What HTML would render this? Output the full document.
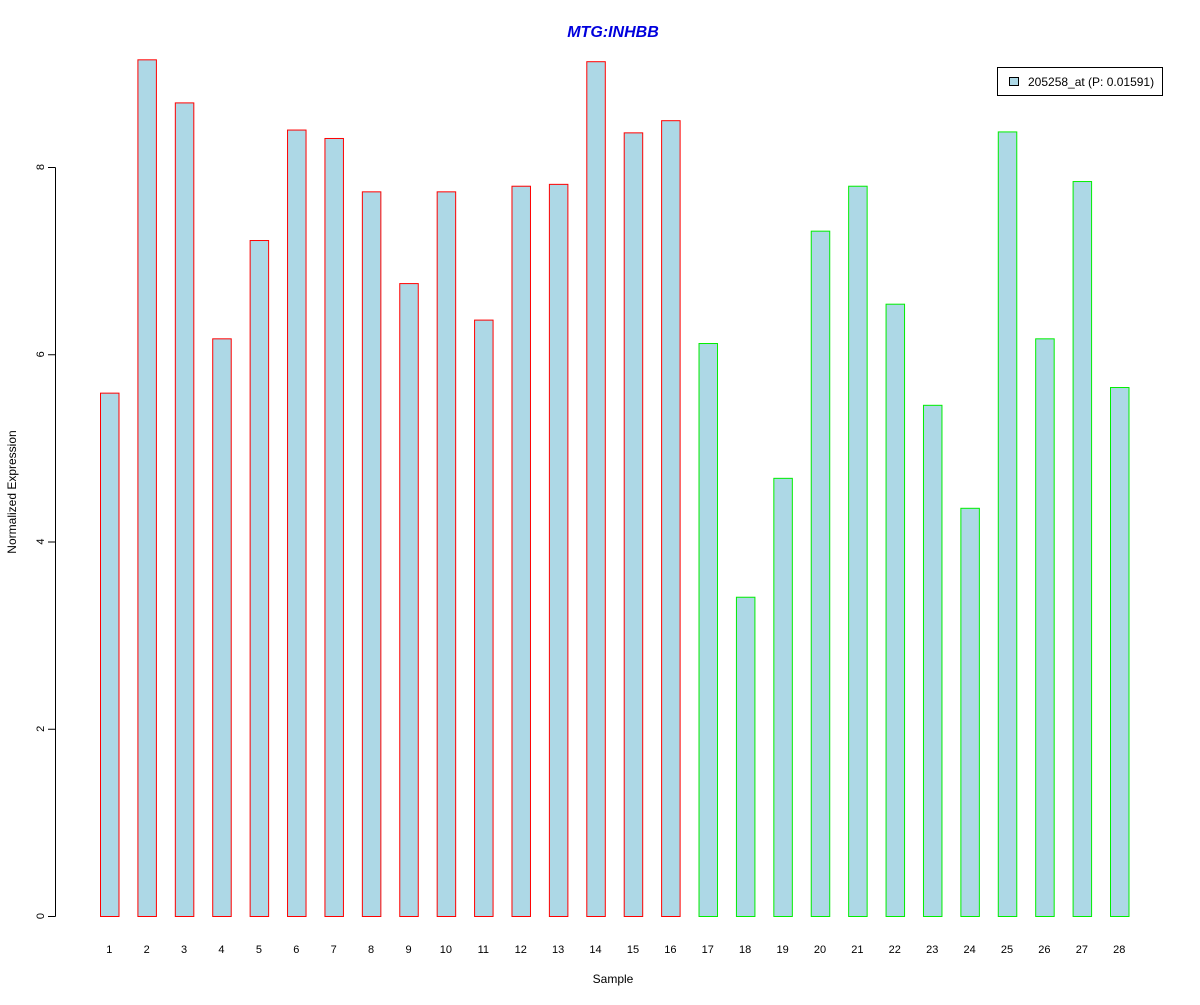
<!DOCTYPE html>
<html><head><meta charset="utf-8"><style>
body{margin:0;background:#fff}
svg text{font-family:"Liberation Sans",Arial,sans-serif}
</style></head><body>
<svg id="chart" width="1200" height="1000" xmlns="http://www.w3.org/2000/svg">
<rect width="1200" height="1000" fill="#fff"/>
<text x="613" y="37" text-anchor="middle" font-size="16" font-weight="bold" font-style="italic" fill="#0000dd">MTG:INHBB</text>
<text x="613" y="983" text-anchor="middle" font-size="12">Sample</text>
<text transform="translate(16,492) rotate(-90)" text-anchor="middle" font-size="12">Normalized Expression</text>
<g id="yaxis"></g>
<g id="bars"></g>
<g id="xlabels"></g>
<g>
<rect x="997.5" y="67.5" width="165" height="28" fill="#fff" stroke="#000"/>
<rect x="1009.5" y="77.5" width="9" height="8" fill="#add8e6" stroke="#000"/>
<text x="1028" y="86" font-size="12">205258_at (P: 0.01591)</text>
</g>
</svg>
<script>
const categories = ["1","2","3","4","5","6","7","8","9","10","11","12","13","14","15","16","17","18","19","20","21","22","23","24","25","26","27","28"];
const values = [5.59,9.15,8.69,6.17,7.22,8.40,8.31,7.74,6.76,7.74,6.37,7.80,7.82,9.13,8.37,8.50,6.12,3.41,4.68,7.32,7.80,6.54,5.46,4.36,8.38,6.17,7.85,5.65];
const groups = ["a","a","a","a","a","a","a","a","a","a","a","a","a","a","a","a","b","b","b","b","b","b","b","b","b","b","b","b"];
const yTicks = [0,2,4,6,8];
const NS="http://www.w3.org/2000/svg";
const y0=916, yScale=(916-167)/8;
function yPos(v){return y0 - v*yScale;}
function xPos(i){return 100 + i*(1110-100)/27;}
const bw=18.5;
const bars=document.getElementById('bars');
values.forEach((v,i)=>{
  const r=document.createElementNS(NS,'rect');
  r.setAttribute('x',xPos(i)+0.5);
  r.setAttribute('y',yPos(v)+0.5);
  r.setAttribute('width',bw);
  r.setAttribute('height',v*yScale);
  r.setAttribute('fill','#add8e6');
  r.setAttribute('stroke',groups[i]==='a'?'#ff0000':'#00ee00');
  
  
  bars.appendChild(r);
  const t=document.createElementNS(NS,'text');
  t.setAttribute('x',xPos(i)+bw/2);
  t.setAttribute('y',953);
  t.setAttribute('text-anchor','middle');
  t.setAttribute('font-size','11');
  t.textContent=categories[i];
  
  
  document.getElementById('xlabels').appendChild(t);
});
const ya=document.getElementById('yaxis');
const ax=document.createElementNS(NS,'line');
ax.setAttribute('x1',55.5);ax.setAttribute('x2',55.5);
ax.setAttribute('y1',yPos(yTicks[0])+0.5);ax.setAttribute('y2',yPos(yTicks[yTicks.length-1])+0.5);
ax.setAttribute('stroke','#000');


ya.appendChild(ax);
yTicks.forEach(v=>{
  const l=document.createElementNS(NS,'line');
  l.setAttribute('x1',48);l.setAttribute('x2',55.5);
  l.setAttribute('y1',yPos(v)+0.5);l.setAttribute('y2',yPos(v)+0.5);
  l.setAttribute('stroke','#000');
  
  
  ya.appendChild(l);
  const t=document.createElementNS(NS,'text');
  t.setAttribute('transform','translate(44,'+yPos(v)+') rotate(-90)');
  t.setAttribute('text-anchor','middle');
  t.setAttribute('font-size','11');
  t.textContent=v;
  
  
  ya.appendChild(t);
});
</script>
</body></html>
